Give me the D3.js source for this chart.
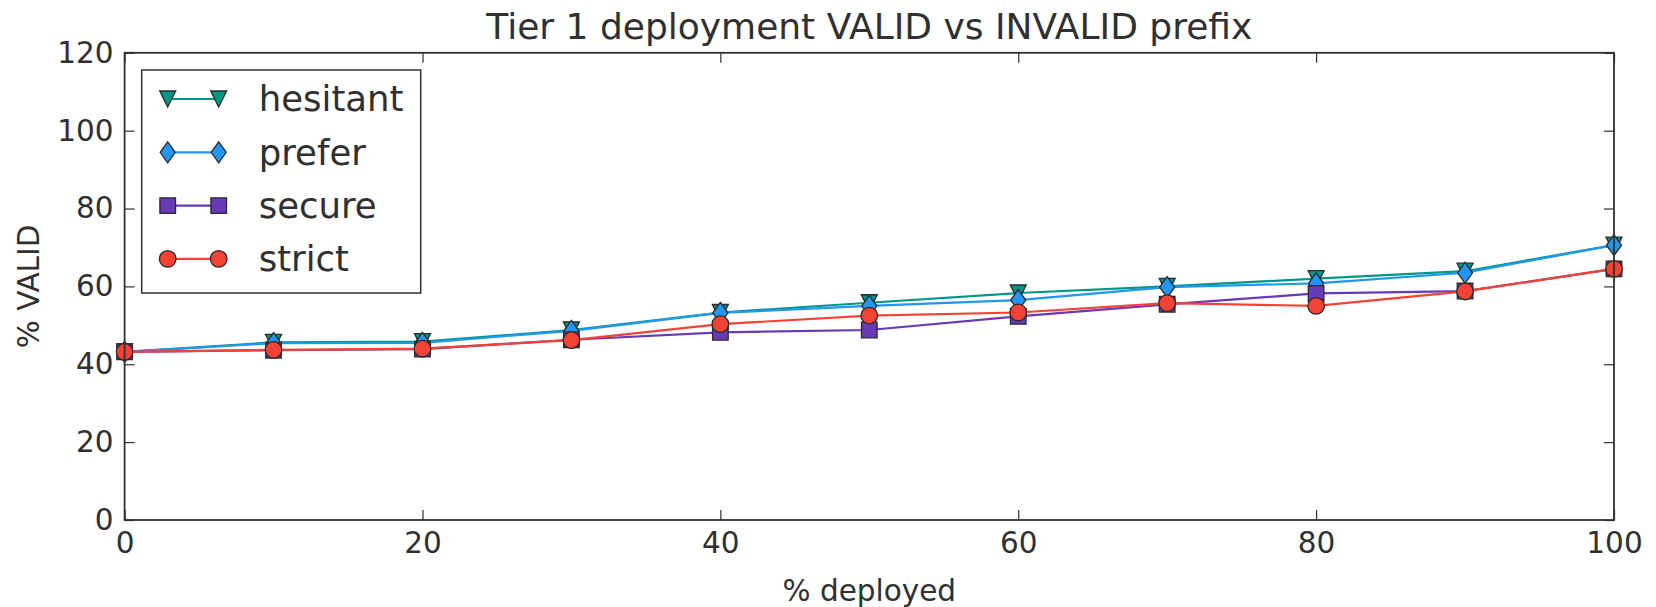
<!DOCTYPE html>
<html>
<head>
<meta charset="utf-8">
<script src="https://cdn.jsdelivr.net/npm/d3@7"></script>
<style>
  body { margin: 0; background: #fff; }
  text { font-family: "DejaVu Sans", sans-serif; fill: #303030; }
</style>
</head>
<body>
<div id="chart"></div>
<script>
// data
const deployed = [0, 10, 20, 30, 40, 50, 60, 70, 80, 90, 100];
const hesitant = [43.2, 45.6, 45.8, 48.8, 53.3, 55.8, 58.3, 60.0, 62.0, 63.9, 70.6];
const prefer   = [43.2, 45.4, 45.5, 48.6, 53.2, 55.0, 56.5, 59.8, 60.8, 63.5, 70.6];
const secure   = [43.2, 43.6, 43.9, 46.3, 48.2, 48.8, 52.3, 55.4, 58.2, 58.8, 64.5];
const strict   = [43.2, 43.7, 44.0, 46.2, 50.3, 52.5, 53.3, 55.7, 55.0, 58.7, 64.5];
const xTicks = [0, 20, 40, 60, 80, 100];
const yTicks = [0, 20, 40, 60, 80, 100, 120];
const seriesNames = ["hesitant", "prefer", "secure", "strict"];

const series = [
  { name: "hesitant", values: hesitant, color: "#009688", marker: "tri_down" },
  { name: "prefer",   values: prefer,   color: "#2196f3", marker: "diamond" },
  { name: "secure",   values: secure,   color: "#673ab7", marker: "square" },
  { name: "strict",   values: strict,   color: "#f44336", marker: "circle" }
];

const width = 1656, height = 607;
const margin = { left: 124.6, right: 42, top: 52.8, bottom: 87 };
const iw = width - margin.left - margin.right,
  ih = height - margin.top - margin.bottom;

const svg = d3.select("#chart").append("svg")
  .attr("width", width).attr("height", height);

const x = d3.scaleLinear().domain([0, 100]).range([0, iw]);
const y = d3.scaleLinear().domain([0, 120]).range([ih, 0]);

const g = svg.append("g").attr("transform", `translate(${margin.left},${margin.top})`);

// marker shapes, pixel sizes like matplotlib
function markerPath(type) {
  const p = d3.path();
  if (type === "circle") {
    p.arc(0, 0, 8.3, 0, 2 * Math.PI);
  } else if (type === "square") {
    p.rect(-7.8, -7.8, 15.6, 15.6);
  } else if (type === "diamond") {
    p.moveTo(0, -10.5); p.lineTo(7.5, 0); p.lineTo(0, 10.5); p.lineTo(-7.5, 0); p.closePath();
  } else if (type === "tri_down") {
    p.moveTo(-8, -8); p.lineTo(8, -8); p.lineTo(0, 8); p.closePath();
  }
  return p.toString();
}

const line = d3.line()
  .x((d, i) => x(deployed[i]))
  .y(d => y(d));

series.forEach(s => {
  const sg = g.append("g");
  sg.append("path")
    .datum(s.values)
    .attr("d", line)
    .attr("fill", "none")
    .attr("stroke", s.color)
    .attr("stroke-width", 2.2);
  sg.selectAll("path.mk")
    .data(s.values)
    .enter().append("path")
    .attr("class", "mk")
    .attr("d", markerPath(s.marker))
    .attr("transform", (d, i) => `translate(${x(deployed[i])},${y(d)})`)
    .attr("fill", s.color)
    .attr("stroke", "#2b2b2b")
    .attr("stroke-width", 1.3);
});

// axes, ticks pointing inward like the classic style
function styleAxis(sel) {
  sel.select(".domain").remove();
  sel.selectAll(".tick line").attr("stroke", "#303030").attr("stroke-width", 1.2);
  sel.selectAll(".tick text").style("font-size", "29.5px").attr("fill", "#303030");
}

g.append("g").attr("transform", `translate(0,${ih})`)
  .call(d3.axisBottom(x).tickValues(xTicks).tickSizeInner(-10).tickSizeOuter(0).tickPadding(12))
  .call(styleAxis);
g.append("g")
  .call(d3.axisLeft(y).tickValues(yTicks).tickSizeInner(-10).tickSizeOuter(0).tickPadding(11))
  .call(styleAxis);
g.append("g")
  .call(d3.axisTop(x).tickValues(xTicks).tickSizeInner(-10).tickSizeOuter(0).tickFormat(""))
  .call(styleAxis);
g.append("g").attr("transform", `translate(${iw},0)`)
  .call(d3.axisRight(y).tickValues(yTicks).tickSizeInner(-10).tickSizeOuter(0).tickFormat(""))
  .call(styleAxis);

g.append("rect")
  .attr("width", iw).attr("height", ih)
  .attr("fill", "none").attr("stroke", "#303030").attr("stroke-width", 1.8);

// titles
svg.append("text")
  .attr("x", margin.left + iw / 2).attr("y", 26).attr("dy", "0.35em")
  .attr("text-anchor", "middle").style("font-size", "36px")
  .text("Tier 1 deployment VALID vs INVALID prefix");
svg.append("text")
  .attr("x", margin.left + iw / 2).attr("y", 591).attr("dy", "0.35em")
  .attr("text-anchor", "middle").style("font-size", "29.5px")
  .text("% deployed");
svg.append("text")
  .attr("transform", `translate(29,${margin.top + ih / 2}) rotate(-90)`)
  .attr("dy", "0.35em")
  .attr("text-anchor", "middle").style("font-size", "29.5px")
  .text("% VALID");

// legend
const lg = svg.append("g").attr("transform", "translate(141.7,70)");
lg.append("rect")
  .attr("width", 279).attr("height", 223)
  .attr("fill", "#fff").attr("stroke", "#303030").attr("stroke-width", 1.5);
series.forEach((s, i) => {
  const ry = 29 + i * 53.3;
  lg.append("line")
    .attr("x1", 26).attr("x2", 77).attr("y1", ry).attr("y2", ry)
    .attr("stroke", s.color).attr("stroke-width", 2.2);
  [26, 77].forEach(mx => {
    lg.append("path")
      .attr("d", markerPath(s.marker))
      .attr("transform", `translate(${mx},${ry})`)
      .attr("fill", s.color).attr("stroke", "#2b2b2b").attr("stroke-width", 1.3);
  });
  lg.append("text")
    .attr("x", 117).attr("y", ry).attr("dy", "0.35em")
    .style("font-size", "35.5px")
    .text(seriesNames[i]);
});
</script>
</body>
</html>
